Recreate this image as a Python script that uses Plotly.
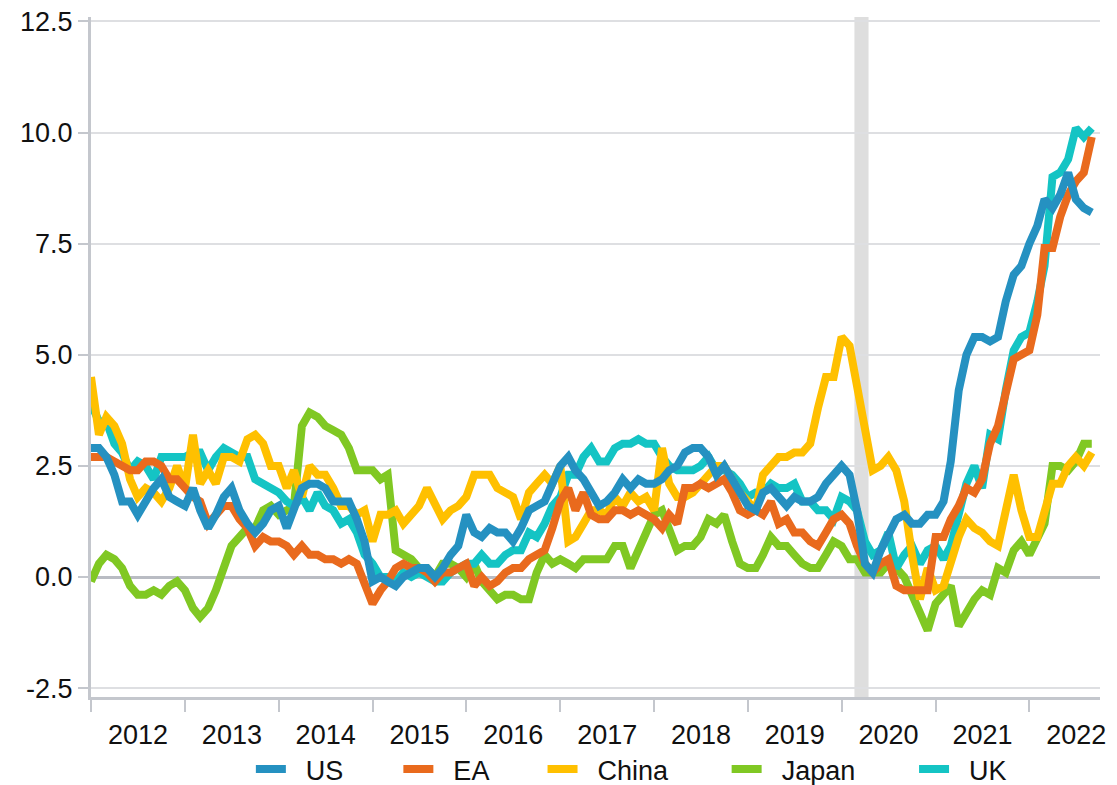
import pandas as pd
import plotly.graph_objects as go

months = pd.date_range("2012-01-01", "2022-09-01", freq="MS")

us = [2.9, 2.9, 2.7, 2.3, 1.7, 1.7, 1.4, 1.7, 2.0, 2.2, 1.8, 1.7,
      1.6, 2.0, 1.5, 1.1, 1.4, 1.8, 2.0, 1.5, 1.2, 1.0, 1.2, 1.5,
      1.6, 1.1, 1.5, 2.0, 2.1, 2.1, 2.0, 1.7, 1.7, 1.7, 1.3, 0.8,
      -0.1, 0.0, -0.1, -0.2, 0.0, 0.1, 0.2, 0.2, 0.0, 0.2, 0.5, 0.7,
      1.4, 1.0, 0.9, 1.1, 1.0, 1.0, 0.8, 1.1, 1.5, 1.6, 1.7, 2.1,
      2.5, 2.7, 2.4, 2.2, 1.9, 1.6, 1.7, 1.9, 2.2, 2.0, 2.2, 2.1,
      2.1, 2.2, 2.4, 2.5, 2.8, 2.9, 2.9, 2.7, 2.3, 2.5, 2.2, 1.9,
      1.6, 1.5, 1.9, 2.0, 1.8, 1.6, 1.8, 1.7, 1.7, 1.8, 2.1, 2.3,
      2.5, 2.3, 1.5, 0.3, 0.1, 0.6, 1.0, 1.3, 1.4, 1.2, 1.2, 1.4,
      1.4, 1.7, 2.6, 4.2, 5.0, 5.4, 5.4, 5.3, 5.4, 6.2, 6.8, 7.0,
      7.5, 7.9, 8.5, 8.3, 8.6, 9.1, 8.5, 8.3, 8.2]

ea = [2.7, 2.7, 2.7, 2.6, 2.5, 2.4, 2.4, 2.6, 2.6, 2.5, 2.2, 2.2,
      2.0, 1.8, 1.7, 1.2, 1.4, 1.6, 1.6, 1.3, 1.1, 0.7, 0.9, 0.8,
      0.8, 0.7, 0.5, 0.7, 0.5, 0.5, 0.4, 0.4, 0.3, 0.4, 0.3, -0.2,
      -0.6, -0.3, -0.1, 0.2, 0.3, 0.2, 0.2, 0.1, -0.1, 0.1, 0.1, 0.2,
      0.3, -0.2, 0.0, -0.2, -0.1, 0.1, 0.2, 0.2, 0.4, 0.5, 0.6, 1.1,
      1.7, 2.0, 1.5, 1.9, 1.4, 1.3, 1.3, 1.5, 1.5, 1.4, 1.5, 1.4,
      1.3, 1.1, 1.4, 1.2, 2.0, 2.0, 2.1, 2.0, 2.1, 2.2, 1.9, 1.5,
      1.4, 1.5, 1.4, 1.7, 1.2, 1.3, 1.0, 1.0, 0.8, 0.7, 1.0, 1.3,
      1.4, 1.2, 0.7, 0.3, 0.1, 0.3, 0.4, -0.2, -0.3, -0.3, -0.3, -0.3,
      0.9, 0.9, 1.3, 1.6, 2.0, 1.9, 2.2, 3.0, 3.4, 4.1, 4.9, 5.0,
      5.1, 5.9, 7.4, 7.4, 8.1, 8.6, 8.9, 9.1, 9.9]

china = [4.5, 3.2, 3.6, 3.4, 3.0, 2.2, 1.8, 2.0, 1.9, 1.7, 2.0, 2.5,
         2.0, 3.2, 2.1, 2.4, 2.1, 2.7, 2.7, 2.6, 3.1, 3.2, 3.0, 2.5,
         2.5, 2.0, 2.4, 1.8, 2.5, 2.3, 2.3, 2.0, 1.6, 1.6, 1.4, 1.5,
         0.8, 1.4, 1.4, 1.5, 1.2, 1.4, 1.6, 2.0, 1.6, 1.3, 1.5, 1.6,
         1.8, 2.3, 2.3, 2.3, 2.0, 1.9, 1.8, 1.3, 1.9, 2.1, 2.3, 2.1,
         2.5, 0.8, 0.9, 1.2, 1.5, 1.5, 1.4, 1.8, 1.6, 1.9, 1.7, 1.8,
         1.5, 2.9, 2.1, 1.8, 1.8, 1.9, 2.1, 2.3, 2.5, 2.5, 2.2, 1.9,
         1.7, 1.5, 2.3, 2.5, 2.7, 2.7, 2.8, 2.8, 3.0, 3.8, 4.5, 4.5,
         5.4, 5.2, 4.3, 3.3, 2.4, 2.5, 2.7, 2.4, 1.7, 0.5, -0.5, 0.2,
         -0.3, -0.2, 0.4, 0.9, 1.3, 1.1, 1.0, 0.8, 0.7, 1.5, 2.3, 1.5,
         0.9, 0.9, 1.5, 2.1, 2.1, 2.5, 2.7, 2.5, 2.8]

japan = [-0.1, 0.3, 0.5, 0.4, 0.2, -0.2, -0.4, -0.4, -0.3, -0.4, -0.2, -0.1,
         -0.3, -0.7, -0.9, -0.7, -0.3, 0.2, 0.7, 0.9, 1.1, 1.1, 1.5, 1.6,
         1.4, 1.5, 1.6, 3.4, 3.7, 3.6, 3.4, 3.3, 3.2, 2.9, 2.4, 2.4,
         2.4, 2.2, 2.3, 0.6, 0.5, 0.4, 0.2, 0.2, 0.0, 0.3, 0.3, 0.2,
         0.0, 0.3, -0.1, -0.3, -0.5, -0.4, -0.4, -0.5, -0.5, 0.1, 0.5, 0.3,
         0.4, 0.3, 0.2, 0.4, 0.4, 0.4, 0.4, 0.7, 0.7, 0.2, 0.6, 1.0,
         1.4, 1.5, 1.1, 0.6, 0.7, 0.7, 0.9, 1.3, 1.2, 1.4, 0.8, 0.3,
         0.2, 0.2, 0.5, 0.9, 0.7, 0.7, 0.5, 0.3, 0.2, 0.2, 0.5, 0.8,
         0.7, 0.4, 0.4, 0.1, 0.1, 0.1, 0.3, 0.2, 0.0, -0.4, -0.9, -1.2,
         -0.6, -0.4, -0.2, -1.1, -0.8, -0.5, -0.3, -0.4, 0.2, 0.1, 0.6, 0.8,
         0.5, 0.9, 1.2, 2.5, 2.5, 2.4, 2.6, 3.0, 3.0]

uk = [3.9, 3.5, 3.5, 3.0, 2.8, 2.4, 2.6, 2.5, 2.2, 2.7, 2.7, 2.7,
      2.7, 2.8, 2.8, 2.4, 2.7, 2.9, 2.8, 2.7, 2.7, 2.2, 2.1, 2.0,
      1.9, 1.7, 1.6, 1.8, 1.5, 1.9, 1.6, 1.5, 1.2, 1.3, 1.0, 0.5,
      0.3, 0.0, 0.0, -0.1, 0.1, 0.0, 0.1, 0.0, -0.1, -0.1, 0.1, 0.2,
      0.3, 0.3, 0.5, 0.3, 0.3, 0.5, 0.6, 0.6, 1.0, 0.9, 1.2, 1.6,
      1.8, 2.3, 2.3, 2.7, 2.9, 2.6, 2.6, 2.9, 3.0, 3.0, 3.1, 3.0,
      3.0, 2.7, 2.5, 2.4, 2.4, 2.4, 2.5, 2.7, 2.4, 2.4, 2.3, 2.1,
      1.8, 1.9, 1.9, 2.1, 2.0, 2.0, 2.1, 1.7, 1.7, 1.5, 1.5, 1.3,
      1.8, 1.7, 1.5, 0.8, 0.5, 0.6, 1.0, 0.2, 0.5, 0.7, 0.3, 0.6,
      0.7, 0.4, 0.7, 1.5, 2.1, 2.5, 2.0, 3.2, 3.1, 4.2, 5.1, 5.4,
      5.5, 6.2, 7.0, 9.0, 9.1, 9.4, 10.1, 9.9, 10.1]

y_ticks = [-2.5, 0.0, 2.5, 5.0, 7.5, 10.0, 12.5]
y_labels = ["-2.5", "0.0", "2.5", "5.0", "7.5", "10.0", "12.5"]

# drawing order (bottom to top), colour, legend box, legend box left edge (container frac)
series = [
    ("Japan", japan, "#80c823", "legend4", 0.648),
    ("UK", uk, "#14c4c4", "legend5", 0.817),
    ("China", china, "#ffc000", "legend3", 0.482),
    ("EA", ea, "#e96a1d", "legend2", 0.352),
    ("US", us, "#2591c1", "legend", 0.219),
]

W, H = 1109, 777  # page body has an 8px margin

fig = go.Figure()
legends = {}
for name, vals, col, leg, lx in series:
    fig.add_trace(go.Scatter(x=months, y=vals, name="\u00a0\u00a0" + name, mode="lines",
                             line=dict(color=col, width=8),
                             legend=leg, showlegend=True))
    legends[leg] = dict(orientation="h", xref="container", yref="container",
                        x=lx, xanchor="left", y=0.02, yanchor="middle",
                        font=dict(size=27), itemwidth=30,
                        bgcolor="rgba(0,0,0,0)")

# shaded band early 2020
fig.add_vrect(x0="2020-02-20", x1="2020-04-15", fillcolor="#dedede",
              line_width=0, layer="below")

fig.update_layout(
    width=W, height=H,
    margin=dict(l=83, r=17, t=9, b=88, autoexpand=False),
    showlegend=True,
    plot_bgcolor="white",
    paper_bgcolor="white",
    font=dict(family="Liberation Sans, Arial, sans-serif", size=27, color="#111111"),
    **legends,
)

fig.update_yaxes(
    range=[-2.7, 12.6],
    tickvals=y_ticks, ticktext=y_labels, ticklabeloverflow="allow",
    showgrid=True, gridcolor="#dedfe2", gridwidth=2,
    zeroline=True, zerolinecolor="#b9bcc3", zerolinewidth=3,
    showline=True, linecolor="#c4c7cd", linewidth=3,
    ticks="outside", ticklen=10, tickcolor="#c4c7cd", tickwidth=2,
)

fig.update_xaxes(
    range=["2012-01-01", "2022-10-03"],
    dtick="M12", tick0="2012-01-01", tickformat="%Y", ticklabelmode="period",
    showgrid=False, showline=True, linecolor="#c4c7cd", linewidth=3,
    ticks="outside", ticklen=12, tickcolor="#c4c7cd", tickwidth=2,
)

fig.write_html("out.html")
